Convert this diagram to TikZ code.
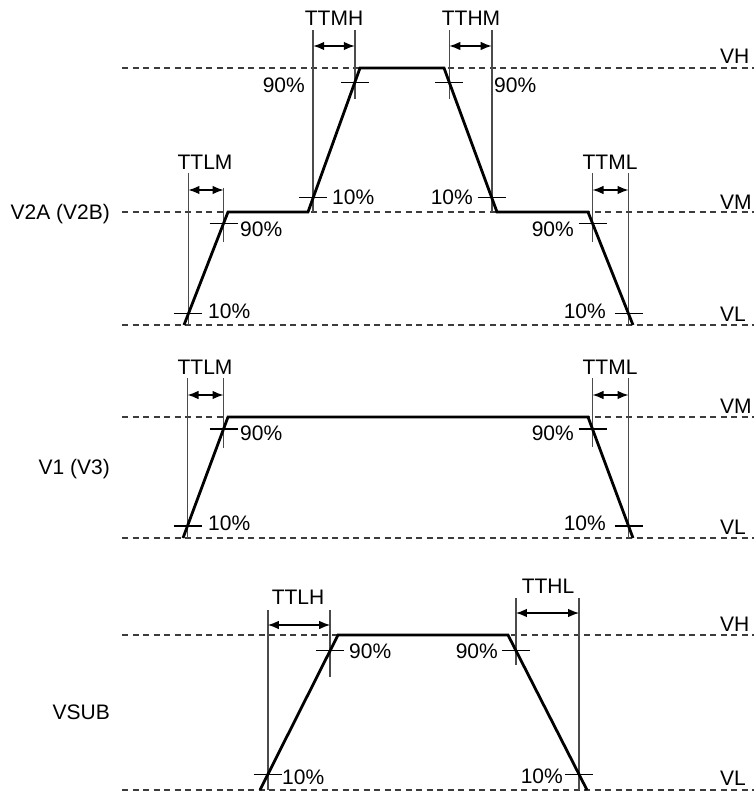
\documentclass[tikz,border=0pt]{standalone}
\usepackage{fontspec}
\setmainfont{Liberation Sans}
\usetikzlibrary{calc,arrows.meta}
\definecolor{measgray}{RGB}{75,75,75}
\definecolor{levelgray}{RGB}{60,60,60}
\begin{document}
\begin{tikzpicture}[x=1pt,y=-1pt,
  lbl/.style={inner sep=0pt, font=\fontsize{21}{25}\selectfont, text height=15pt, text depth=0pt},
  wave/.style={line width=2.8pt, line join=miter, draw=black},
  meas/.style={line width=1.6pt, draw=measgray},
  tickmark/.style={line width=1.4pt, draw=black},
  level/.style={line width=1.3pt, draw=levelgray, dash pattern=on 6pt off 4.5pt},
  dim/.style={line width=1.3pt, draw=black, {Latex[length=11pt,width=8.5pt]}-{Latex[length=11pt,width=8.5pt]}}]
\useasboundingbox (0,0) rectangle (754,794);

% level lines
\foreach \yy in {68,212,325,417,538,635,790}
  \draw[level] (122,\yy) -- (754,\yy);

% ---------------- Panel 1: V2A (V2B)
\coordinate (a0) at (184,325);
\coordinate (a1) at (228,212);
\coordinate (a2) at (308,212);
\coordinate (a3) at (360,68);
\coordinate (a4) at (444,68);
\coordinate (a5) at (497,212);
\coordinate (a6) at (588,212);
\coordinate (a7) at (633,325);
\coordinate (a10) at ($(a0)!0.1!(a1)$);
\coordinate (a90) at ($(a0)!0.9!(a1)$);
\coordinate (b10) at ($(a2)!0.1!(a3)$);
\coordinate (b90) at ($(a2)!0.9!(a3)$);
\coordinate (c10) at ($(a5)!0.1!(a4)$);
\coordinate (c90) at ($(a5)!0.9!(a4)$);
\coordinate (d10) at ($(a7)!0.1!(a6)$);
\coordinate (d90) at ($(a7)!0.9!(a6)$);

\draw[meas] (a10 |- 0,173) -- (a10 |- 0,325);
\draw[meas] (a90 |- 0,188) -- (a90 |- 0,242);
\draw[meas] (b10 |- 0,30) -- (b10 |- 0,212);
\draw[meas] (b90 |- 0,30) -- (b90 |- 0,99);
\draw[meas] (c90 |- 0,30) -- (c90 |- 0,99);
\draw[meas] (c10 |- 0,30) -- (c10 |- 0,212);
\draw[meas] (d90 |- 0,173) -- (d90 |- 0,242);
\draw[meas] (d10 |- 0,173) -- (d10 |- 0,325);

\foreach \p in {a10,a90,b10,b90,c10,c90,d10,d90}
  \draw[tickmark] ($(\p)+(-14,0)$) -- ($(\p)+(14,0)$);

\draw[wave] (a0) -- (a1) -- (a2) -- (a3) -- (a4) -- (a5) -- (a6) -- (a7);

\draw[dim] (a10 |- 0,190) -- (a90 |- 0,190);
\draw[dim] (b10 |- 0,46) -- (b90 |- 0,46);
\draw[dim] (c90 |- 0,46) -- (c10 |- 0,46);
\draw[dim] (d90 |- 0,190) -- (d10 |- 0,190);

\node[lbl] (ttlm1) at (205,162) {TTLM};
\node[lbl] (ttmh) at (334,18) {TTMH};
\node[lbl] (tthm) at (471,18) {TTHM};
\node[lbl] (ttml1) at (610,162) {TTML};
\node[lbl, anchor=west] (pa90) at (240,229) {90\%};
\node[lbl, anchor=west] (pa10) at (208,311) {10\%};
\node[lbl, anchor=east] (pb90) at (305,85) {90\%};
\node[lbl, anchor=west] (pb10) at (332,197) {10\%};
\node[lbl, anchor=west] (pc90) at (494,85) {90\%};
\node[lbl, anchor=east] (pc10) at (473,197) {10\%};
\node[lbl, anchor=east] (pd90) at (574,229) {90\%};
\node[lbl, anchor=east] (pd10) at (606,311) {10\%};
\node[lbl, anchor=west] (vh1) at (720,56) {VH};
\node[lbl, anchor=west] (vm1) at (720,202) {VM};
\node[lbl, anchor=west] (vl1) at (720,314) {VL};
\node[lbl, anchor=east] (sig1) at (110,212) {V2A (V2B)};

% ---------------- Panel 2: V1 (V3)
\coordinate (e0) at (183,538);
\coordinate (e1) at (228,417);
\coordinate (e2) at (588,417);
\coordinate (e3) at (633,538);
\coordinate (e10) at ($(e0)!0.1!(e1)$);
\coordinate (e90) at ($(e0)!0.9!(e1)$);
\coordinate (f10) at ($(e3)!0.1!(e2)$);
\coordinate (f90) at ($(e3)!0.9!(e2)$);

\draw[meas] (e10 |- 0,378) -- (e10 |- 0,538);
\draw[meas] (e90 |- 0,378) -- (e90 |- 0,448);
\draw[meas] (f90 |- 0,378) -- (f90 |- 0,447);
\draw[meas] (f10 |- 0,378) -- (f10 |- 0,538);

\foreach \p in {e10,e90,f10,f90}
  \draw[tickmark] ($(\p)+(-14,0)$) -- ($(\p)+(14,0)$);

\draw[wave] (e0) -- (e1) -- (e2) -- (e3);

\draw[dim] (e10 |- 0,395) -- (e90 |- 0,395);
\draw[dim] (f90 |- 0,395) -- (f10 |- 0,395);

\node[lbl] (ttlm2) at (205,367) {TTLM};
\node[lbl] (ttml2) at (610,367) {TTML};
\node[lbl, anchor=west] (pe90) at (240,433) {90\%};
\node[lbl, anchor=west] (pe10) at (208,523) {10\%};
\node[lbl, anchor=east] (pf90) at (574,433) {90\%};
\node[lbl, anchor=east] (pf10) at (606,523) {10\%};
\node[lbl, anchor=west] (vm2) at (720,406) {VM};
\node[lbl, anchor=west] (vl2) at (720,527) {VL};
\node[lbl, anchor=east] (sig2) at (110,467) {V1 (V3)};

% ---------------- Panel 3: VSUB
\coordinate (g0) at (260,790);
\coordinate (g1) at (338,635);
\coordinate (g2) at (508,635);
\coordinate (g3) at (587,790);
\coordinate (g10) at ($(g0)!0.1!(g1)$);
\coordinate (g90) at ($(g0)!0.9!(g1)$);
\coordinate (h10) at ($(g3)!0.1!(g2)$);
\coordinate (h90) at ($(g3)!0.9!(g2)$);

\draw[meas] (g10 |- 0,610) -- (g10 |- 0,790);
\draw[meas] (g90 |- 0,610) -- (g90 |- 0,677);
\draw[meas] (h90 |- 0,598) -- (h90 |- 0,665);
\draw[meas] (h10 |- 0,598) -- (h10 |- 0,790);

\foreach \p in {g10,g90,h10,h90}
  \draw[tickmark] ($(\p)+(-14,0)$) -- ($(\p)+(14,0)$);

\draw[wave] (g0) -- (g1) -- (g2) -- (g3);

\draw[dim] (g10 |- 0,625) -- (g90 |- 0,625);
\draw[dim] (h90 |- 0,613) -- (h10 |- 0,613);

\node[lbl] (ttlh) at (298,597) {TTLH};
\node[lbl] (tthl) at (548,586) {TTHL};
\node[lbl, anchor=west] (pg90) at (349,651) {90\%};
\node[lbl, anchor=west] (pg10) at (282,777) {10\%};
\node[lbl, anchor=east] (ph90) at (498,651) {90\%};
\node[lbl, anchor=east] (ph10) at (563,776) {10\%};
\node[lbl, anchor=west] (vh3) at (720,624) {VH};
\node[lbl, anchor=west] (vl3) at (720,778) {VL};
\node[lbl, anchor=east] (sig3) at (110,712) {VSUB};
\end{tikzpicture}
\end{document}
